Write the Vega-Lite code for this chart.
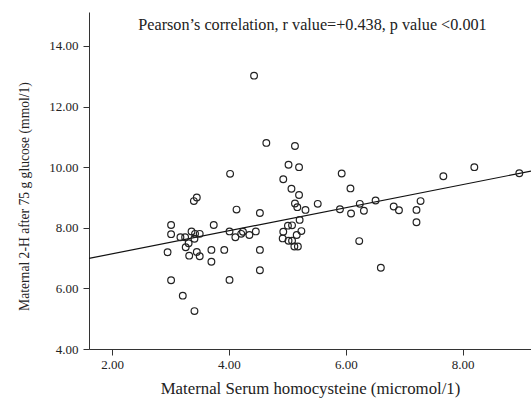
{
  "$schema": "https://vega.github.io/schema/vega-lite/v6.json",
  "width": 442,
  "height": 337,
  "autosize": {"type": "none"},
  "padding": {"left": 89, "top": 12, "right": 0, "bottom": 52},
  "background": "white",
  "config": {
    "view": {"stroke": null},
    "font": "Liberation Serif",
    "axis": {
      "grid": false,
      "domainColor": "#333333",
      "tickColor": "#333333",
      "tickSize": 6,
      "labelFont": "Liberation Serif",
      "labelFontSize": 13,
      "labelColor": "#222222",
      "titleFont": "Liberation Serif",
      "titleFontWeight": "normal",
      "titleColor": "#222222"
    }
  },
  "datasets": {
    "pts": [
      {"hcy": 4.43, "glu": 13.02}, {"hcy": 4.64, "glu": 10.80}, {"hcy": 5.13, "glu": 10.70},
      {"hcy": 5.02, "glu": 10.08}, {"hcy": 5.20, "glu": 10.00}, {"hcy": 4.02, "glu": 9.78},
      {"hcy": 5.93, "glu": 9.79}, {"hcy": 4.93, "glu": 9.60}, {"hcy": 5.07, "glu": 9.29},
      {"hcy": 6.08, "glu": 9.30}, {"hcy": 5.20, "glu": 9.08}, {"hcy": 3.45, "glu": 9.00},
      {"hcy": 3.40, "glu": 8.88}, {"hcy": 5.13, "glu": 8.80}, {"hcy": 5.52, "glu": 8.79},
      {"hcy": 4.13, "glu": 8.60}, {"hcy": 5.17, "glu": 8.68}, {"hcy": 5.31, "glu": 8.59},
      {"hcy": 4.53, "glu": 8.49}, {"hcy": 5.90, "glu": 8.61}, {"hcy": 6.09, "glu": 8.47},
      {"hcy": 5.21, "glu": 8.26}, {"hcy": 3.01, "glu": 8.09}, {"hcy": 3.74, "glu": 8.09},
      {"hcy": 5.01, "glu": 8.07}, {"hcy": 5.08, "glu": 8.08}, {"hcy": 3.01, "glu": 7.79},
      {"hcy": 3.36, "glu": 7.88}, {"hcy": 3.42, "glu": 7.80}, {"hcy": 3.50, "glu": 7.80},
      {"hcy": 3.17, "glu": 7.69}, {"hcy": 3.25, "glu": 7.69}, {"hcy": 3.41, "glu": 7.64},
      {"hcy": 4.01, "glu": 7.88}, {"hcy": 4.24, "glu": 7.87}, {"hcy": 4.21, "glu": 7.80},
      {"hcy": 4.11, "glu": 7.69}, {"hcy": 4.35, "glu": 7.76}, {"hcy": 4.46, "glu": 7.88},
      {"hcy": 4.93, "glu": 7.87}, {"hcy": 5.24, "glu": 7.89}, {"hcy": 5.16, "glu": 7.76},
      {"hcy": 4.92, "glu": 7.65}, {"hcy": 5.02, "glu": 7.57}, {"hcy": 5.08, "glu": 7.57},
      {"hcy": 5.12, "glu": 7.38}, {"hcy": 5.18, "glu": 7.38}, {"hcy": 3.31, "glu": 7.49},
      {"hcy": 3.26, "glu": 7.36}, {"hcy": 2.95, "glu": 7.19}, {"hcy": 3.45, "glu": 7.20},
      {"hcy": 3.32, "glu": 7.08}, {"hcy": 3.50, "glu": 7.06}, {"hcy": 3.70, "glu": 7.27},
      {"hcy": 3.92, "glu": 7.27}, {"hcy": 4.53, "glu": 7.27}, {"hcy": 3.70, "glu": 6.88},
      {"hcy": 4.53, "glu": 6.60}, {"hcy": 3.01, "glu": 6.27}, {"hcy": 4.01, "glu": 6.28},
      {"hcy": 3.21, "glu": 5.76}, {"hcy": 3.41, "glu": 5.25}, {"hcy": 6.24, "glu": 8.79},
      {"hcy": 6.51, "glu": 8.90}, {"hcy": 6.31, "glu": 8.56}, {"hcy": 6.82, "glu": 8.70},
      {"hcy": 6.91, "glu": 8.58}, {"hcy": 7.21, "glu": 8.59}, {"hcy": 7.28, "glu": 8.88},
      {"hcy": 7.21, "glu": 8.18}, {"hcy": 6.23, "glu": 7.56}, {"hcy": 6.60, "glu": 6.68},
      {"hcy": 7.67, "glu": 9.70}, {"hcy": 8.20, "glu": 10.00}, {"hcy": 8.97, "glu": 9.80}
    ],
    "fit": [
      {"hcy": 1.605, "glu": 6.99},
      {"hcy": 9.17, "glu": 9.87}
    ],
    "note": [
      {"hcy": 5.43, "glu": 14.69, "label": "Pearson’s correlation, r value=+0.438, p value <0.001"}
    ]
  },
  "layer": [
    {
      "data": {"name": "fit"},
      "mark": {"type": "line", "color": "#111111", "strokeWidth": 1.2},
      "encoding": {
        "x": {
          "field": "hcy", "type": "quantitative",
          "scale": {"domain": [1.605, 9.17], "nice": false, "zero": false},
          "axis": {"values": [2, 4, 6, 8], "format": ".2f", "title": "Maternal Serum homocysteine (micromol/1)", "titleFontSize": 16.8, "titlePadding": 9, "labelPadding": 3}
        },
        "y": {
          "field": "glu", "type": "quantitative",
          "scale": {"domain": [4, 15.12], "nice": false, "zero": false},
          "axis": {"values": [4, 6, 8, 10, 12, 14], "format": ".2f", "title": "Maternal 2-H after 75 g glucose (mmol/1)", "titleFontSize": 13.6, "titlePadding": 17, "titleY": 184, "labelPadding": 5}
        }
      }
    },
    {
      "data": {"name": "pts"},
      "mark": {"type": "point", "shape": "circle", "filled": false, "stroke": "#222222", "strokeWidth": 1.2, "size": 45, "opacity": 1},
      "encoding": {
        "x": {"field": "hcy", "type": "quantitative"},
        "y": {"field": "glu", "type": "quantitative"}
      }
    },
    {
      "data": {"name": "note"},
      "mark": {"type": "text", "font": "Liberation Serif", "fontSize": 16.2, "color": "#222222", "baseline": "middle", "align": "center"},
      "encoding": {
        "x": {"field": "hcy", "type": "quantitative"},
        "y": {"field": "glu", "type": "quantitative"},
        "text": {"field": "label"}
      }
    }
  ]
}
